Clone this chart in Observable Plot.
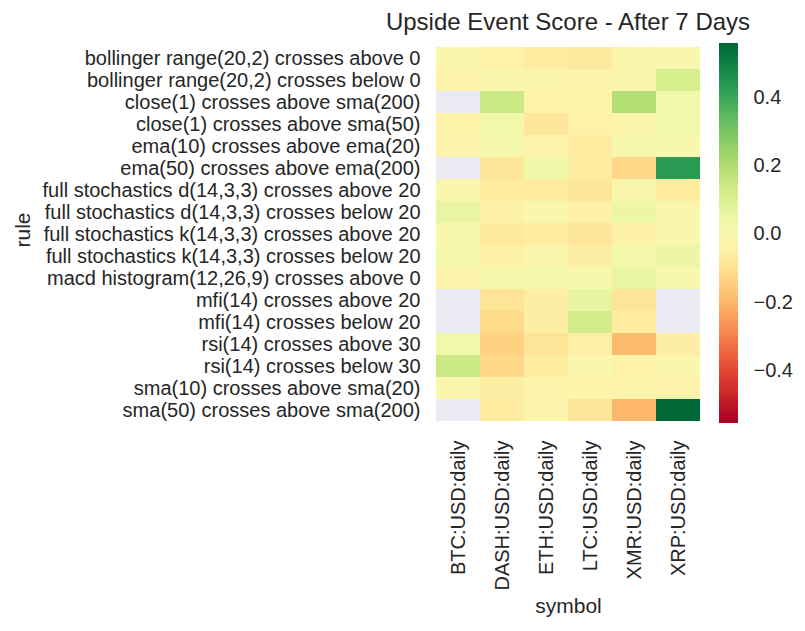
<!DOCTYPE html>
<html>
<head>
<meta charset="utf-8">
<script src="https://cdn.jsdelivr.net/npm/d3@7"></script>
<script src="https://cdn.jsdelivr.net/npm/@observablehq/plot@0.6"></script>
<style>
  body { margin: 0; background: #fff; }
  #wrap { position: relative; width: 805px; height: 631px; font-family: "Liberation Sans", Arial, sans-serif; color: #262626; }
  #wrap svg { position: absolute; top: 0; font-family: "Liberation Sans", Arial, sans-serif; }
  #title { position: absolute; top: 7px; left: 318px; width: 500px; text-align: center; font-size: 24px; line-height: 30px; color: #262626; }
</style>
</head>
<body>
<div id="wrap"><div id="title">Upside Event Score - After 7 Days</div></div>
<script>
const symbols = ["BTC:USD:daily", "DASH:USD:daily", "ETH:USD:daily", "LTC:USD:daily", "XMR:USD:daily", "XRP:USD:daily"];
const rules = [
  "bollinger range(20,2) crosses above 0",
  "bollinger range(20,2) crosses below 0",
  "close(1) crosses above sma(200)",
  "close(1) crosses above sma(50)",
  "ema(10) crosses above ema(20)",
  "ema(50) crosses above ema(200)",
  "full stochastics d(14,3,3) crosses above 20",
  "full stochastics d(14,3,3) crosses below 20",
  "full stochastics k(14,3,3) crosses above 20",
  "full stochastics k(14,3,3) crosses below 20",
  "macd histogram(12,26,9) crosses above 0",
  "mfi(14) crosses above 20",
  "mfi(14) crosses below 20",
  "rsi(14) crosses above 30",
  "rsi(14) crosses below 30",
  "sma(10) crosses above sma(20)",
  "sma(50) crosses above sma(200)"
];
const btc  = [-0.01, -0.025, null, -0.035, -0.03, null, -0.015, 0.06, 0.01, 0.02, -0.03, null, null, 0.03, 0.14, -0.01, null];
const dash = [-0.04, -0.015, 0.14, 0.03, 0.02, -0.08, -0.065, -0.045, -0.075, -0.045, 0.025, -0.09, -0.115, -0.14, -0.12, -0.055, -0.06];
const eth  = [-0.06, -0.02, -0.04, -0.08, -0.03, 0.04, -0.065, -0.015, -0.06, -0.015, 0.025, -0.055, -0.055, -0.09, -0.06, -0.03, -0.03];
const ltc  = [-0.07, -0.03, -0.035, -0.04, -0.06, -0.06, -0.08, -0.045, -0.08, -0.055, 0.01, 0.065, 0.12, -0.05, -0.005, -0.035, -0.085];
const xmr  = [-0.02, -0.01, 0.19, -0.02, 0.01, -0.12, -0.005, 0.05, -0.045, 0.025, 0.06, -0.09, -0.065, -0.19, -0.04, -0.035, -0.2];
const xrp  = [0.0, 0.11, 0.03, 0.03, 0.01, 0.43, -0.065, -0.01, 0.0, 0.05, 0.01, null, null, -0.055, -0.005, -0.03, 0.555];
const colorTicks = [-0.4, -0.2, 0.0, 0.2, 0.4];

const series = [btc, dash, eth, ltc, xmr, xrp];
const table = [];
symbols.forEach((s, i) => rules.forEach((r, j) => {
  table.push({symbol: s, rule: r, value: series[i][j]});
}));
const present = table.filter(d => d.value !== null);
const missing = table.filter(d => d.value === null);

const vmax = 0.555;
const colorOpts = {type: "linear", scheme: "RdYlGn", domain: [-vmax, vmax]};
const fmt = d => d3.format(".1f")(d).replace("-", "\u2212");
const style = {fontFamily: "Liberation Sans, Arial, sans-serif", color: "#262626", background: "transparent"};

const main = Plot.plot({
  width: 805, height: 631,
  marginLeft: 434, marginRight: 103, marginTop: 44, marginBottom: 207,
  x: {domain: symbols, padding: 0, label: null},
  y: {domain: rules, padding: 0, label: null},
  color: colorOpts,
  style,
  marks: [
    Plot.cell(missing, {x: "symbol", y: "rule", fill: "#eaeaf2", inset: 0}),
    Plot.cell(present, {x: "symbol", y: "rule", fill: "value", inset: 0}),
    Plot.axisY({tickSize: 0, tickPadding: 14, fontSize: 20, label: null}),
    Plot.axisX({anchor: "bottom", tickSize: 0, tickPadding: 16, fontSize: 20, tickRotate: -90, label: null}),
    Plot.text(["rule"], {frameAnchor: "left", dx: -411, dy: 13, fontSize: 21, rotate: -90, fill: "#262626"}),
    Plot.text(["symbol"], {frameAnchor: "bottom", dy: 188, fontSize: 21, fill: "#262626"})
  ]
});
document.getElementById("wrap").appendChild(main);
main.style.left = "0px";

const step = vmax * 2 / 200;
const stops = d3.range(200).map(i => -vmax + i * step);
const bar = Plot.plot({
  width: 105, height: 631,
  marginLeft: 19, marginRight: 67, marginTop: 44, marginBottom: 208,
  x: {domain: [0, 1], axis: null},
  y: {domain: [-vmax, vmax], label: null},
  color: colorOpts,
  style,
  marks: [
    Plot.rect(stops, {x1: () => 0, x2: () => 1, y1: d => d, y2: d => d + step * 1.6, fill: d => d + step / 2, inset: 0, shapeRendering: "crispEdges"}),
    Plot.axisY({anchor: "right", ticks: colorTicks, tickFormat: fmt, tickSize: 0, tickPadding: 15, fontSize: 20, label: null})
  ]
});
document.getElementById("wrap").appendChild(bar);
bar.style.left = "700px";
</script>
</body>
</html>
